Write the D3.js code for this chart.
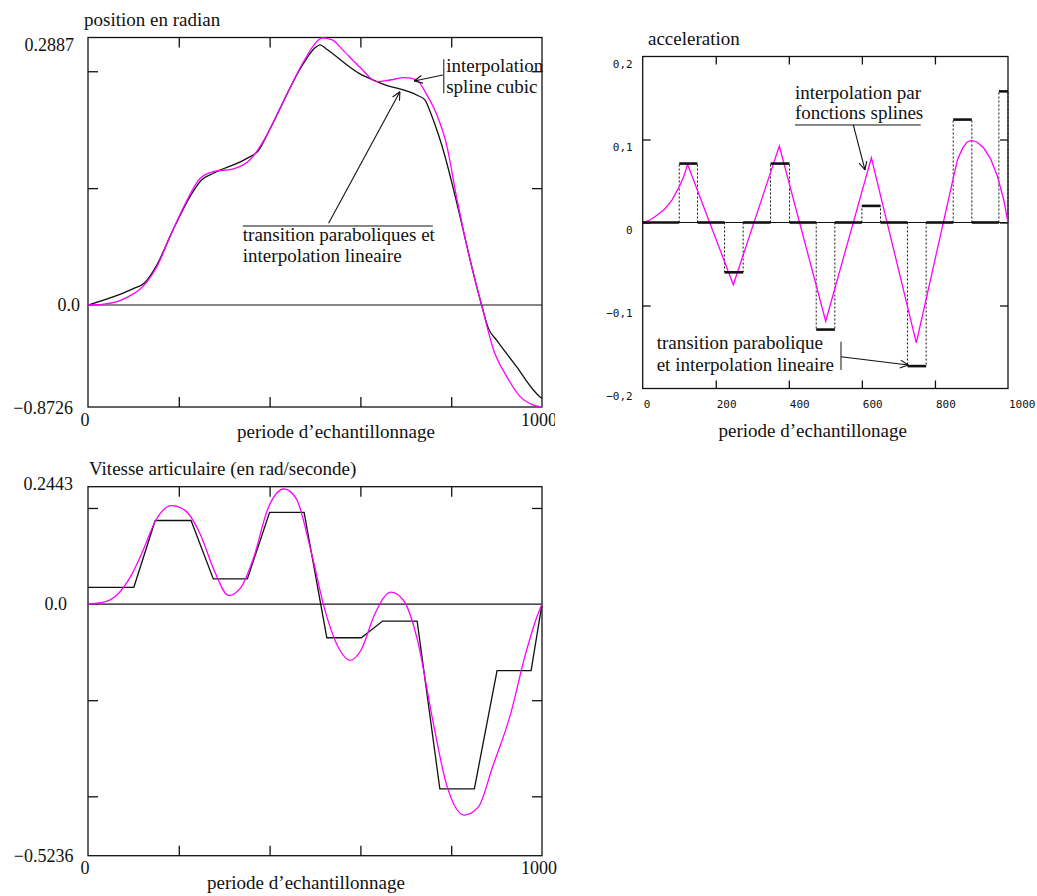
<!DOCTYPE html>
<html>
<head>
<meta charset="utf-8">
<script src="https://cdn.jsdelivr.net/npm/d3@7"></script>
<style>
  body { margin: 0; background: #fff; }
  svg text { font-family: "Liberation Serif", "Times New Roman", serif; font-size: 19px; fill: #111; }
  svg text.num { font-size: 18px; }
  svg text.mono { font-family: "DejaVu Sans Mono", monospace; font-size: 11px; }
</style>
</head>
<body>
<svg id="chart" width="1037" height="896"></svg>
<script>
// ---- shared x axis (periode d'echantillonnage)
const periodeDomain = [0, 1000];
const periodeTicks = [200, 400, 600, 800];

// ---- position en radian
const posDomain = [-0.8726, 2.2887];
const posTicks = [1, 2];
const posLabelValues = [2.2887, 0, -0.8726];
const posLabelTexts = ['0.2887', '0.0', '−0.8726'];
const posSpline = [
  [0, 0], [19, 0], [42, 0.011], [66, 0.031], [90, 0.074], [109, 0.117], [129, 0.194],
  [152, 0.33], [184, 0.615], [215, 0.872], [247, 1.085], [278, 1.143], [318, 1.163],
  [357, 1.243], [388, 1.413], [423, 1.683], [475, 2.083], [498, 2.226], [516, 2.285],
  [538, 2.269], [561, 2.183], [600, 2.03], [636, 1.911], [665, 1.925], [698, 1.945],
  [724, 1.925], [746, 1.8], [766, 1.65], [789, 1.385], [813, 0.9], [838, 0.444],
  [867, 0], [893, -0.38], [922, -0.61], [952, -0.784], [981, -0.856], [1000, -0.8726],
];
const posLinear = [
  [0, 0], [100, 0.14], [125, 0.19], [150, 0.33], [184, 0.615], [225, 0.93], [250, 1.07],
  [275, 1.125], [350, 1.255], [375, 1.32], [400, 1.5], [475, 2.07], [500, 2.2], [511, 2.226],
  [525, 2.19], [600, 1.975], [625, 1.93], [650, 1.89], [725, 1.795], [742, 1.755], [755, 1.64],
  [775, 1.42], [867, 0], [882, -0.2], [900, -0.3], [944, -0.528], [981, -0.727], [995, -0.784],
  [1000, -0.797],
];

// ---- acceleration
const accDomain = [-0.2, 0.2];
const accTicks = [-0.1, 0, 0.1];
const accLabelValues = [-0.2, -0.1, 0, 0.1, 0.2];
const accLabelTexts = ['−0,2', '−0,1', '0', '0,1', '0,2'];
const accXLabelValues = [0, 200, 400, 600, 800, 1000];
const accSegStart = [0, 100, 150, 224, 275, 350, 402, 475, 526, 600, 651, 725, 776, 850, 901, 975];
const accSegEnd = [100, 150, 224, 275, 350, 402, 475, 526, 600, 651, 725, 776, 850, 901, 975, 1000];
const accSegLevel = [0, 0.071, 0, -0.06, 0, 0.071, 0, -0.129, 0, 0.02, 0, -0.173, 0, 0.124, 0, 0.158];
const accSpline = [
  [0, 0], [20, 0.003], [40, 0.009], [60, 0.016], [80, 0.027], [100, 0.043], [112, 0.055],
  [123, 0.07], [248, -0.075], [374, 0.092], [501, -0.119], [626, 0.078], [749, -0.145],
  [851, 0.055], [862, 0.076], [875, 0.089], [888, 0.097], [899, 0.099], [915, 0.097],
  [933, 0.09], [952, 0.077], [970, 0.057], [988, 0.028], [1000, 0],
];

// ---- vitesse articulaire
const vitDomain = [-0.5236, 0.2443];
const vitTicks = [-0.4, -0.2, 0.2];
const vitLabelValues = [0.2443, 0, -0.5236];
const vitLabelTexts = ['0.2443', '0.0', '−0.5236'];
const vitSpline = [
  [0, 0], [35, 0.004], [66, 0.021], [97, 0.063], [121, 0.111], [149, 0.174], [184, 0.205],
  [215, 0.194], [247, 0.146], [278, 0.07], [310, 0.018], [337, 0.035], [365, 0.097],
  [396, 0.198], [432, 0.2395], [459, 0.219], [491, 0.111], [522, -0.013], [553, -0.093],
  [577, -0.117], [601, -0.0965], [632, -0.02], [667, 0.025], [695, 0.0075], [726, -0.076],
  [758, -0.235], [789, -0.373], [829, -0.439], [860, -0.422], [891, -0.339], [931, -0.228],
  [962, -0.11], [986, -0.034], [1000, 0],
];
const vitLinear = [
  [0, 0.035], [101, 0.035], [148, 0.174], [227, 0.174], [276, 0.0525], [351, 0.0525],
  [400, 0.191], [476, 0.191], [526, -0.07], [602, -0.07], [649, -0.0354], [725, -0.0354],
  [775, -0.3845], [851, -0.3845], [901, -0.1386], [976, -0.1386], [1000, 0],
];

const MAGENTA = '#ff00ff';
const INK = '#111';

const svg = d3.select('#chart');
svg.append('defs').append('clipPath').attr('id', 'crop-pos')
  .append('rect').attr('x', 0).attr('y', 0).attr('width', 555).attr('height', 450);

function panel(root, box, yDomain, yTicks, tickLen) {
  const g = root.append('g').attr('transform', `translate(${box.left},${box.top})`);
  const x = d3.scaleLinear().domain(periodeDomain).range([0, box.width]);
  const y = d3.scaleLinear().domain(yDomain).range([box.height, 0]);

  g.append('rect')
    .attr('width', box.width).attr('height', box.height)
    .attr('fill', 'none').attr('stroke', INK).attr('stroke-width', 1.3);

  const axes = [
    [d3.axisBottom(x).tickValues(periodeTicks), `translate(0,${box.height})`],
    [d3.axisTop(x).tickValues(periodeTicks), 'translate(0,0)'],
    [d3.axisLeft(y).tickValues(yTicks), 'translate(0,0)'],
    [d3.axisRight(y).tickValues(yTicks), `translate(${box.width},0)`],
  ];
  axes.forEach(([axis, tr]) => {
    const a = g.append('g').attr('transform', tr)
      .call(axis.tickSize(-tickLen).tickSizeOuter(0).tickFormat(''));
    a.select('.domain').remove();
    a.selectAll('line').attr('stroke', INK).attr('stroke-width', 1.3);
  });

  g.append('line')
    .attr('x1', 0).attr('x2', box.width)
    .attr('y1', y(0)).attr('y2', y(0))
    .attr('stroke', INK).attr('stroke-width', 1.2);
  return { g, x, y };
}

function drawLine(p, data, color, curve, width) {
  p.g.append('path')
    .datum(data)
    .attr('fill', 'none')
    .attr('stroke', color)
    .attr('stroke-width', width)
    .attr('d', d3.line().x(d => p.x(d[0])).y(d => p.y(d[1])).curve(curve));
}

function arrow(g, x0, y0, x1, y1) {
  g.append('line').attr('x1', x0).attr('y1', y0).attr('x2', x1).attr('y2', y1)
    .attr('stroke', INK).attr('stroke-width', 1.1);
  const a = Math.atan2(y1 - y0, x1 - x0);
  [0.45, -0.45].forEach(da => {
    g.append('line')
      .attr('x1', x1).attr('y1', y1)
      .attr('x2', x1 - 9 * Math.cos(a + da)).attr('y2', y1 - 9 * Math.sin(a + da))
      .attr('stroke', INK).attr('stroke-width', 1.1);
  });
}

function yLabels(p, values, texts, rightEdge, dy) {
  p.g.selectAll(null).data(values).enter().append('text')
    .attr('class', 'num')
    .attr('text-anchor', 'end')
    .attr('x', (d, i) => rightEdge[i])
    .attr('y', (d, i) => p.y(d) + dy[i])
    .text((d, i) => texts[i]);
}

function xEndLabels(p, h) {
  p.g.selectAll(null).data(periodeDomain).enter().append('text')
    .attr('class', 'num')
    .attr('text-anchor', 'middle')
    .attr('x', d => p.x(d) - 3)
    .attr('y', h + 18.5)
    .text(d => d);
}

// ===== position en radian
const posRoot = svg.append('g').attr('clip-path', 'url(#crop-pos)');
const posBox = { left: 88, top: 37.5, width: 454, height: 369.5 };
const pos = panel(posRoot, posBox, posDomain, posTicks, 10);
drawLine(pos, posLinear, INK, d3.curveMonotoneX, 1.3);
drawLine(pos, posSpline, MAGENTA, d3.curveMonotoneX, 1.3);
yLabels(pos, posLabelValues, posLabelTexts, [-14, -8, -15], [13.5, 6, 7]);
xEndLabels(pos, posBox.height);
pos.g.append('text').attr('x', -4).attr('y', -11.5).text('position en radian');
pos.g.append('text').attr('text-anchor', 'middle').attr('x', 248).attr('y', posBox.height + 31)
  .text('periode d’echantillonnage');

// notes
pos.g.append('text').attr('x', pos.x(789)).attr('y', pos.y(1.994)).text('interpolation');
pos.g.append('text').attr('x', pos.x(789)).attr('y', pos.y(1.814)).text('spline cubic');
pos.g.append('line').attr('x1', pos.x(783.7)).attr('x2', pos.x(783.7))
  .attr('y1', pos.y(2.102)).attr('y2', pos.y(1.811)).attr('stroke', INK);
arrow(pos.g, pos.x(781.5), pos.y(1.968), pos.x(718.5), pos.y(1.917));
pos.g.append('line').attr('x1', pos.x(341)).attr('x2', pos.x(759.5))
  .attr('y1', pos.y(0.676)).attr('y2', pos.y(0.676)).attr('stroke', INK);
arrow(pos.g, pos.x(530), pos.y(0.699), pos.x(687), pos.y(1.825));
pos.g.append('text').attr('x', pos.x(341)).attr('y', pos.y(0.548)).text('transition paraboliques et');
pos.g.append('text').attr('x', pos.x(341)).attr('y', pos.y(0.368)).text('interpolation lineaire');

// ===== acceleration
const accBox = { left: 642.7, top: 56.5, width: 365.3, height: 332 };
const acc = panel(svg, accBox, accDomain, accTicks, 8);
acc.g.selectAll('.dot').data(accSegLevel.map((v, i) => i).filter(i => accSegLevel[i] !== 0))
  .enter().each(function (i) {
    [accSegStart[i], accSegEnd[i]].forEach(t => {
      acc.g.append('line')
        .attr('x1', acc.x(t)).attr('x2', acc.x(t))
        .attr('y1', acc.y(0)).attr('y2', acc.y(accSegLevel[i]))
        .attr('stroke', INK).attr('stroke-width', 1).attr('stroke-dasharray', '2,2');
    });
  });
drawLine(acc, accSpline, MAGENTA, d3.curveLinear, 1.3);
acc.g.selectAll(null).data(accSegLevel).enter().append('line')
  .attr('x1', (d, i) => acc.x(accSegStart[i]))
  .attr('x2', (d, i) => acc.x(accSegEnd[i]))
  .attr('y1', d => acc.y(d)).attr('y2', d => acc.y(d))
  .attr('stroke', INK).attr('stroke-width', 2.6);
acc.g.selectAll(null).data(accLabelValues).enter().append('text')
  .attr('class', 'mono').attr('text-anchor', 'end')
  .attr('x', -10).attr('y', d => acc.y(d) + 11)
  .text((d, i) => accLabelTexts[i]);
acc.g.selectAll(null).data(accXLabelValues).enter().append('text')
  .attr('class', 'mono')
  .attr('x', d => acc.x(d) + 1).attr('y', accBox.height + 19.5)
  .text(d => d);
acc.g.append('text').attr('x', 5.3).attr('y', -11.5).text('acceleration');
acc.g.append('text').attr('text-anchor', 'middle').attr('x', 170).attr('y', accBox.height + 48.5)
  .text('periode d’echantillonage');

acc.g.append('text').attr('x', acc.x(417)).attr('y', acc.y(0.1484)).text('interpolation par');
acc.g.append('text').attr('x', acc.x(417)).attr('y', acc.y(0.1243)).text('fonctions splines');
acc.g.append('line').attr('x1', acc.x(417)).attr('x2', acc.x(761))
  .attr('y1', acc.y(0.1175)).attr('y2', acc.y(0.1175)).attr('stroke', INK);
arrow(acc.g, acc.x(576.5), acc.y(0.1175), acc.x(608.5), acc.y(0.0633));
acc.g.append('text').attr('x', acc.x(38.3)).attr('y', acc.y(-0.1524)).text('transition parabolique');
acc.g.append('text').attr('x', acc.x(38.3)).attr('y', acc.y(-0.1789)).text('et interpolation lineaire');
acc.g.append('line').attr('x1', acc.x(542.8)).attr('x2', acc.x(542.8))
  .attr('y1', acc.y(-0.1436)).attr('y2', acc.y(-0.1777)).attr('stroke', INK);
arrow(acc.g, acc.x(542.8), acc.y(-0.1617), acc.x(727), acc.y(-0.1717));

// ===== vitesse articulaire
const vitBox = { left: 88, top: 486.7, width: 454, height: 369 };
const vit = panel(svg, vitBox, vitDomain, vitTicks, 10);
drawLine(vit, vitLinear, INK, d3.curveLinear, 1.3);
drawLine(vit, vitSpline, MAGENTA, d3.curveMonotoneX, 1.3);
yLabels(vit, vitLabelValues, vitLabelTexts, [-15, -21, -14.5], [3.5, 5.5, 6.5]);
xEndLabels(vit, vitBox.height);
vit.g.append('text').attr('x', 1).attr('y', -11.7).text('Vitesse articulaire (en rad/seconde)');
vit.g.append('text').attr('text-anchor', 'middle').attr('x', 218).attr('y', vitBox.height + 33)
  .text('periode d’echantillonnage');
</script>
</body>
</html>
